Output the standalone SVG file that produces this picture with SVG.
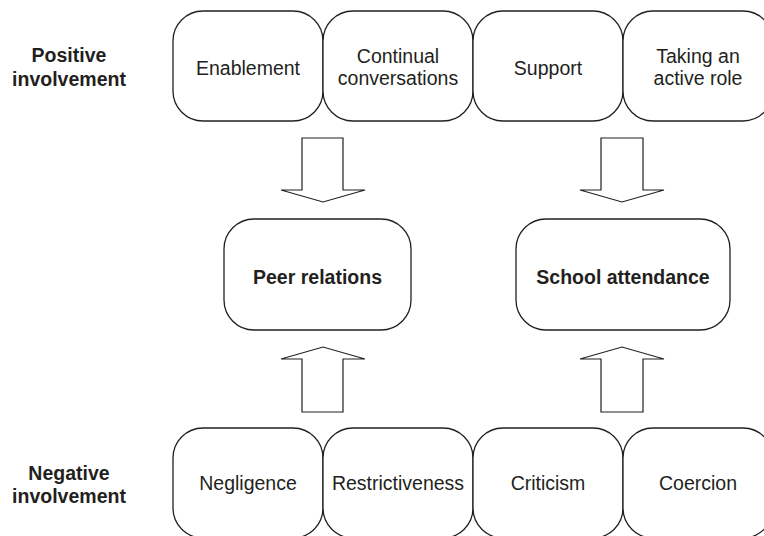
<svg xmlns="http://www.w3.org/2000/svg" width="764" height="536" viewBox="0 0 764 536">
<style>
.box{fill:#fff;stroke:#231f20;stroke-width:1.3}
.arr{fill:#fff;stroke:#231f20;stroke-width:1.2;stroke-linejoin:miter}
text{font-family:"Liberation Sans",Arial,sans-serif;font-size:19.5px;fill:#231f20;text-anchor:middle}
.b{font-weight:bold}
</style>
<rect width="764" height="536" fill="#fff"/>
<g id="label-positive"><text class="b" x="69" y="62">Positive</text><text class="b" x="69" y="86">involvement</text></g>
<g id="label-negative"><text class="b" x="69" y="480">Negative</text><text class="b" x="69" y="503">involvement</text></g>
<g id="enablement"><rect class="box" x="173" y="11" width="150" height="110" rx="30" ry="30"/><text x="248" y="75">Enablement</text></g>
<g id="continual"><rect class="box" x="323" y="11" width="150" height="110" rx="30" ry="30"/><text x="398" y="63">Continual</text><text x="398" y="85">conversations</text></g>
<g id="support"><rect class="box" x="473" y="11" width="150" height="110" rx="30" ry="30"/><text x="548" y="75">Support</text></g>
<g id="active"><rect class="box" x="623" y="11" width="150" height="110" rx="30" ry="30"/><text x="698" y="63">Taking an</text><text x="698" y="85">active role</text></g>
<g id="peer"><rect class="box" x="224" y="219" width="187" height="111" rx="30" ry="30"/><text class="b" x="317.5" y="284">Peer relations</text></g>
<g id="school"><rect class="box" x="516" y="219" width="214" height="111" rx="30" ry="30"/><text class="b" x="623" y="284">School attendance</text></g>
<g id="negligence"><rect class="box" x="173" y="428" width="150" height="110" rx="30" ry="30"/><text x="248" y="490">Negligence</text></g>
<g id="restrictiveness"><rect class="box" x="323" y="428" width="150" height="110" rx="30" ry="30"/><text x="398" y="490">Restrictiveness</text></g>
<g id="criticism"><rect class="box" x="473" y="428" width="150" height="110" rx="30" ry="30"/><text x="548" y="490">Criticism</text></g>
<g id="coercion"><rect class="box" x="623" y="428" width="150" height="110" rx="30" ry="30"/><text x="698" y="490">Coercion</text></g>
<g id="connectors">
<polygon class="arr" points="302,138 343,138 343,190 365,190 323,202 281,190 302,190"/>
<polygon class="arr" points="601,138 643,138 643,190 664,190 622,202 580,190 601,190"/>
<polygon class="arr" points="302,412 343,412 343,359 365,359 323,347 281,359 302,359"/>
<polygon class="arr" points="601,412 643,412 643,359 664,359 622,347 580,359 601,359"/>
</g>
</svg>
